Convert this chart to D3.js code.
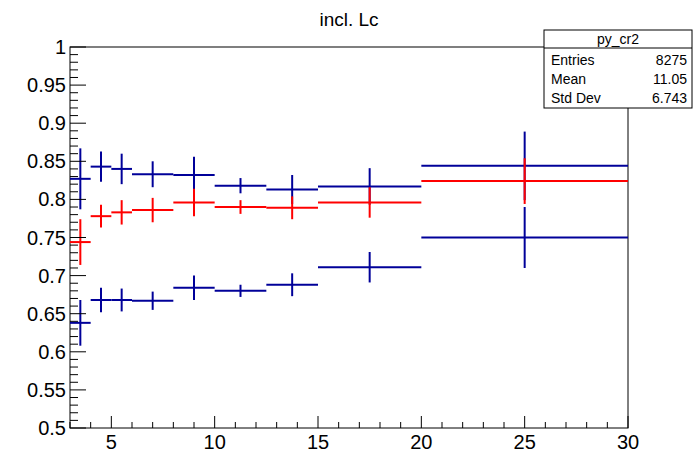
<!DOCTYPE html><html><head><script src="https://cdn.jsdelivr.net/npm/d3@7"></script>
<style>body{margin:0;background:#fff}text{font-family:"Liberation Sans",Arial,sans-serif}</style></head><body><svg id="c" width="698" height="476"></svg><script>
const edges=[3,4,5,6,8,10,12.5,15,20,30];
const red=[0.744,0.778,0.783,0.786,0.796,0.790,0.789,0.796,0.824];
const redErr=[0.030,0.015,0.016,0.016,0.018,0.009,0.015,0.020,0.030];
const blueHi=[0.827,0.843,0.840,0.833,0.832,0.818,0.813,0.817,0.844];
const blueHiErr=[0.040,0.020,0.020,0.017,0.024,0.010,0.019,0.024,0.045];
const blueLo=[0.638,0.668,0.668,0.667,0.684,0.680,0.688,0.711,0.750];
const blueLoErr=[0.030,0.016,0.015,0.012,0.016,0.008,0.015,0.020,0.040];
const xTicks=[5,10,15,20,25,30];
const svg=d3.select("#c");
const L=70,R=628,T=47,B=428;
const x=d3.scaleLinear().domain([3,30]).range([L,R]);
const y=d3.scaleLinear().domain([0.5,1]).range([B,T]);
svg.append("rect").attr("x",L).attr("y",T).attr("width",R-L).attr("height",B-T).attr("fill","none").attr("stroke","#000");
function series(v,e,col){const g=svg.append("g").attr("stroke",col).attr("stroke-width",2);
 v.forEach((d,i)=>{const a=edges[i],b=edges[i+1],c=(a+b)/2;
  g.append("line").attr("x1",x(a)).attr("x2",x(b)).attr("y1",y(d)).attr("y2",y(d));
  g.append("line").attr("x1",x(c)).attr("x2",x(c)).attr("y1",y(d-e[i])).attr("y2",y(d+e[i]));});}
series(blueHi,blueHiErr,"#000099");series(blueLo,blueLoErr,"#000099");series(red,redErr,"#ff0000");
const ax=svg.append("g").attr("stroke","#000");
for(let v=3;v<=30;v++){const m=v%5==0;ax.append("line").attr("x1",x(v)).attr("x2",x(v)).attr("y1",B).attr("y2",B-(m?12:6));}
for(let k=50;k<=100;k++){const v=k/100,m=k%5==0;ax.append("line").attr("x1",L).attr("x2",L+(m?16:8)).attr("y1",y(v)).attr("y2",y(v));}
xTicks.forEach(v=>svg.append("text").attr("x",x(v)).attr("y",B+21).attr("text-anchor","middle").attr("font-size",20).text(v));
d3.range(50,101,5).forEach(k=>svg.append("text").attr("x",L-4).attr("y",y(k/100)+7).attr("text-anchor","end").attr("font-size",20).text(k==100?"1":d3.format(".2~f")(k/100)));
svg.append("text").attr("x",349).attr("y",26).attr("text-anchor","middle").attr("font-size",19).text("incl. Lc");
const bx=544,by=30,bw=148,bh=78;
svg.append("rect").attr("x",bx).attr("y",by).attr("width",bw).attr("height",bh).attr("fill","#fff").attr("stroke","#000");
svg.append("line").attr("x1",bx).attr("x2",bx+bw).attr("y1",by+18).attr("y2",by+18).attr("stroke","#000");
svg.append("text").attr("x",bx+bw/2).attr("y",by+14).attr("text-anchor","middle").attr("font-size",14).text("py_cr2");
[["Entries","8275"],["Mean","11.05"],["Std Dev","6.743"]].forEach((r,i)=>{const yy=by+35+i*19;
 svg.append("text").attr("x",bx+7).attr("y",yy).attr("font-size",14).text(r[0]);
 svg.append("text").attr("x",bx+bw-5).attr("y",yy).attr("text-anchor","end").attr("font-size",14).text(r[1]);});
</script></body></html>
